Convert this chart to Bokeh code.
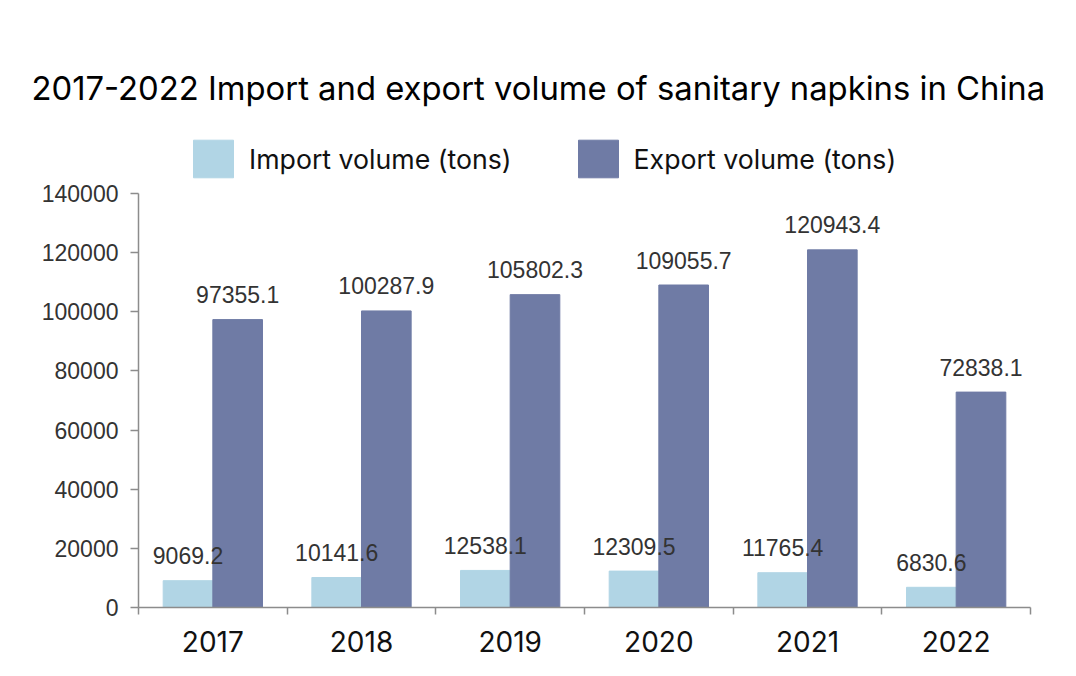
import numpy as np
from bokeh.plotting import figure
from bokeh.models import (ColumnDataSource, FixedTicker, BasicTickFormatter, Title,
                          Legend, LegendItem, Range1d)
from bokeh.core.properties import value
from bokeh.transform import dodge
from bokeh.embed import file_html
from bokeh.resources import INLINE

# ---- data ----
years = ["2017", "2018", "2019", "2020", "2021", "2022"]
imports = [9069.2, 10141.6, 12538.1, 12309.5, 11765.4, 6830.6]
exports = [97355.1, 100287.9, 105802.3, 109055.7, 120943.4, 72838.1]
y_ticks = [0, 20000, 40000, 60000, 80000, 100000, 120000, 140000]
y_max = 140000

title_text = "2017-2022 Import and export volume of sanitary napkins in China"
import_name = "Import volume (tons)"
export_name = "Export volume (tons)"

IMPORT_COLOR = "#b1d5e5"
EXPORT_COLOR = "#6f7ba5"
AXIS_COLOR = "#8c8c8c"
UI_FONT = "Inter"
NUM_FONT = "Liberation Sans"

idx = np.arange(len(years))
src = ColumnDataSource(dict(
    x=idx,
    imp=imports,
    exp=exports,
    imp_lbl=[f"{v:.1f}" for v in imports],
    exp_lbl=[f"{v:.1f}" for v in exports],
))

AXIS_PX = 414          # pixel height of the 0..140000 axis
FRAME_H = 482          # frame also hosts the legend above the axis
p = figure(frame_width=892, frame_height=FRAME_H,
           min_border_left=138, min_border_right=30,
           min_border_top=125, min_border_bottom=55,
           x_range=Range1d(-0.5, len(years) - 0.5),
           y_range=Range1d(0, y_max * FRAME_H / AXIS_PX),
           output_backend="svg", toolbar_location=None,
           background_fill_color="white", border_fill_color="white")
p.outline_line_color = None
p.xgrid.visible = False
p.ygrid.visible = False

p.title = Title(text=title_text, align="left", offset=-107, standoff=35,
                text_font=UI_FONT, text_font_size="32.8px", text_font_style="normal",
                text_color="#000000")

bw = 0.334
r_imp = p.vbar(x=dodge("x", -bw / 2, range=p.x_range), top="imp", width=bw, bottom=0,
               source=src, fill_color=IMPORT_COLOR, line_color=IMPORT_COLOR)
r_exp = p.vbar(x=dodge("x", bw / 2, range=p.x_range), top="exp", width=bw, bottom=0,
               source=src, fill_color=EXPORT_COLOR, line_color=EXPORT_COLOR)

p.text(x=dodge("x", -bw / 2, range=p.x_range), y="imp", text="imp_lbl", source=src,
       text_align="center", text_baseline="alphabetic", y_offset=-25,
       text_font=value(NUM_FONT), text_font_size="23px", text_color="#333333")
p.text(x=dodge("x", bw / 2, range=p.x_range), y="exp", text="exp_lbl", source=src,
       text_align="center", text_baseline="alphabetic", y_offset=-25,
       text_font=value(NUM_FONT), text_font_size="23px", text_color="#333333")

# y axis
ya = p.yaxis[0]
ya.bounds = (0, y_max)
ya.ticker = FixedTicker(ticks=y_ticks)
ya.formatter = BasicTickFormatter(use_scientific=False)
ya.axis_line_color = AXIS_COLOR
ya.axis_line_width = 1.5
ya.major_tick_line_color = AXIS_COLOR
ya.major_tick_line_width = 1.5
ya.major_tick_out = 8
ya.major_tick_in = 0
ya.minor_tick_line_color = None
ya.major_label_standoff = 12
ya.major_label_text_font = NUM_FONT
ya.major_label_text_font_size = "23px"
ya.major_label_text_color = "#333333"

# x axis
xa = p.xaxis[0]
xa.ticker = FixedTicker(ticks=[int(i) for i in idx],
                        minor_ticks=[float(i) - 0.5 for i in range(len(years) + 1)])
xa.major_label_overrides = {int(i): y for i, y in zip(idx, years)}
xa.axis_line_color = AXIS_COLOR
xa.axis_line_width = 1.5
xa.major_tick_line_color = None
xa.major_tick_out = 7
xa.major_tick_in = 0
xa.minor_tick_line_color = AXIS_COLOR
xa.minor_tick_line_width = 1.5
xa.minor_tick_out = 7
xa.minor_tick_in = 0
xa.major_label_standoff = 16
xa.major_label_text_font = UI_FONT
xa.major_label_text_font_size = "28px"
xa.major_label_text_color = "#111111"

# legend
legend = Legend(items=[LegendItem(label=import_name, renderers=[r_imp]),
                       LegendItem(label=export_name, renderers=[r_exp])],
                location=(50, 425), orientation="horizontal",
                glyph_width=50, glyph_height=47, label_standoff=11, spacing=61,
                padding=0, margin=0, border_line_color=None,
                background_fill_alpha=0,
                label_text_font=UI_FONT, label_text_font_size="26.7px",
                label_text_color="#111111", label_height=47)
p.add_layout(legend, "center")

open("out.html", "w").write(file_html(p, INLINE))
